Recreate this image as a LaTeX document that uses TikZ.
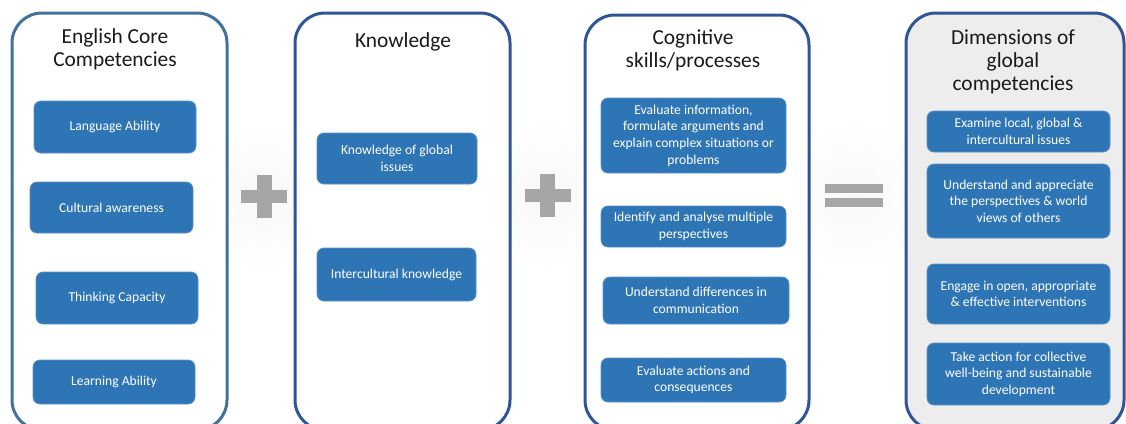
\documentclass[tikz,border=0pt]{standalone}
\usepackage{fontspec}
\setmainfont{Carlito}
\begin{document}
\begin{tikzpicture}[x=1pt,y=-1pt,
  panel/.style={draw=#1, line width=3pt, rounded corners=30pt},
  item/.style={draw=itemedge, fill=itemblue, line width=0.8pt, rounded corners=7pt,
    text=white, align=center, font=\fontsize{13.6}{16.6}\selectfont, inner sep=0pt},
  heading/.style={align=center, text=titlegray, font=\fontsize{21.4}{23}\selectfont},
  sign/.style={fill=signgray, draw=none}]
\definecolor{itemblue}{HTML}{2E75B6}
\definecolor{itemedge}{HTML}{5B8FC7}
\definecolor{edgeA}{HTML}{41719C}
\definecolor{edgeB}{HTML}{2F5597}
\definecolor{titlegray}{HTML}{1A1A1A}
\definecolor{signgray}{HTML}{A6A6A6}
\definecolor{panelfill}{HTML}{EDEDED}

\useasboundingbox (0,0) rectangle (1126,423);
\begin{scope}
\clip (0,0) rectangle (1126,423);

% soft halos behind the operators
\foreach \cx/\cy in {264/197, 547/195, 854/195}
  \shade[inner color=black!3, outer color=white] (\cx,\cy) circle (75);

% four column frames
\draw[panel=edgeA, fill=white] (12,13) rectangle (227,430);
\draw[panel=edgeB, fill=white] (295,13) rectangle (510,430);
\draw[panel=edgeB, fill=white] (585,15) rectangle (809,430);
\draw[panel=edgeB, fill=panelfill] (906,13) rectangle (1124,430);
\end{scope}

% headings
\node[heading] (h1) at (115,49) {English Core\\Competencies};
\node[heading] (h2) at (403,42) {Knowledge};
\node[heading] (h3) at (693,50) {Cognitive\\skills/processes};
\node[heading] (h4) at (1013,62) {Dimensions of\\global\\competencies};

% English core competencies
\node[item, minimum width=162pt, minimum height=52pt] (la)  at (115,127)   {Language Ability};
\node[item, minimum width=163pt, minimum height=51pt] (ca)  at (111.5,207.5) {Cultural awareness};
\node[item, minimum width=162pt, minimum height=52pt] (tc)  at (117,298)   {Thinking Capacity};
\node[item, minimum width=162pt, minimum height=44pt] (lab) at (114,382)   {Learning Ability};

% knowledge
\node[item, minimum width=160pt, minimum height=51pt] (kg) at (397,158.5) {Knowledge of global\\issues};
\node[item, minimum width=159pt, minimum height=53pt] (ik) at (396.5,274.5) {Intercultural knowledge};

% cognitive skills
\node[item, minimum width=185pt, minimum height=75pt] (ei) at (693.5,135.5) {Evaluate information,\\formulate arguments and\\explain complex situations or\\problems};
\node[item, minimum width=185pt, minimum height=41pt] (id) at (693.5,226.5) {Identify and analyse multiple\\perspectives};
\node[item, minimum width=186pt, minimum height=47pt] (ud) at (696,300.5) {Understand differences in\\communication};
\node[item, minimum width=185pt, minimum height=44pt] (ea) at (693.5,380) {Evaluate actions and\\consequences};

% dimensions of global competencies
\node[item, minimum width=183pt, minimum height=41pt] (ex) at (1018.5,131.5) {Examine local, global \&\\intercultural issues};
\node[item, minimum width=183pt, minimum height=74pt] (ua) at (1018.5,201) {Understand and appreciate\\the perspectives \& world\\views of others};
\node[item, minimum width=183pt, minimum height=60pt] (en) at (1018.5,294) {Engage in open, appropriate\\\& effective interventions};
\node[item, minimum width=183pt, minimum height=62pt] (ta) at (1018.5,374) {Take action for collective\\well-being and sustainable\\development};

% plus and equals signs
\foreach \cx/\cy in {264/196.5, 547.5/195} {
  \fill[sign] (\cx-7.5,\cy-21.5) rectangle (\cx+7.5,\cy+21.5);
  \fill[sign] (\cx-23,\cy-6.5) rectangle (\cx+23,\cy+6.5);
}
\fill[sign] (825,184) rectangle (883,193);
\fill[sign] (825,198) rectangle (883,207);
\end{tikzpicture}
\end{document}
